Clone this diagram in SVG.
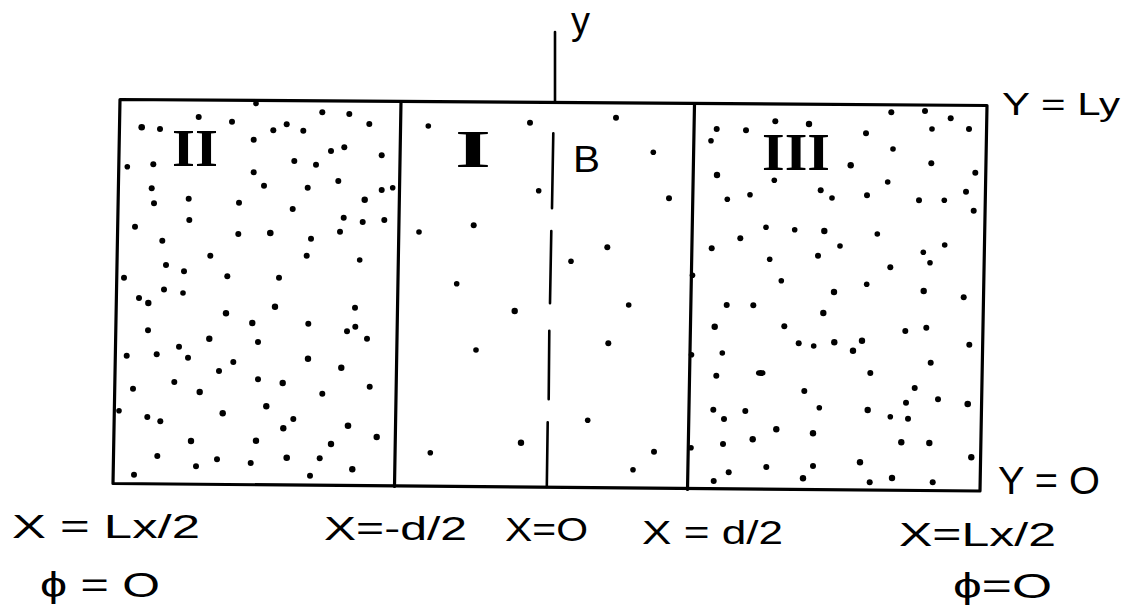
<svg xmlns="http://www.w3.org/2000/svg" width="1127" height="611" viewBox="0 0 1127 611">
<style>
.ln{stroke:#000;stroke-width:3.2;fill:none;stroke-linecap:round;stroke-linejoin:round}
.ax{stroke:#000;stroke-width:2.6;fill:none;stroke-linecap:round}
.d circle,.d ellipse{fill:#000}
.lbl{font-family:"Liberation Sans","DejaVu Sans",sans-serif;fill:#000}
.rn{font-family:"Liberation Serif","DejaVu Serif",serif;font-weight:bold;fill:#000}
</style>
<rect width="1127" height="611" fill="#fff"/>
<g id="frame">
<polygon class="ln" points="120,99.5 987,105.5 980,491 113,483.5"/>
<line class="ln" x1="401" y1="101.5" x2="394.5" y2="486.5"/>
<line class="ln" x1="694.5" y1="104" x2="687.5" y2="489.5"/>
</g>
<g id="connectors">
<line class="ax" x1="555" y1="32" x2="555" y2="102"/>
<g class="ax">
<line x1="553.3" y1="133.3" x2="552" y2="208.3"/>
<line x1="551.3" y1="231" x2="550" y2="303.3"/>
<line x1="549.3" y1="330.7" x2="548.7" y2="399.3"/>
<line x1="547.7" y1="422.3" x2="546.8" y2="487"/>
</g>
</g>
<g id="region-II" class="d">
<text class="rn" x="172" y="165.5" font-size="52" textLength="46" lengthAdjust="spacingAndGlyphs">II</text>
<circle cx="141.7" cy="127.3" r="3.3"/><circle cx="160" cy="129" r="3"/><circle cx="198.7" cy="117" r="3"/><circle cx="232" cy="121.7" r="3"/><circle cx="256" cy="103.5" r="2.8"/><circle cx="322.3" cy="112.3" r="3"/><circle cx="349.3" cy="114" r="3"/><circle cx="369.3" cy="124" r="3"/><circle cx="286.7" cy="124.3" r="3"/><circle cx="273.3" cy="130.3" r="3"/><circle cx="303.3" cy="130.7" r="3"/><circle cx="253.7" cy="139.7" r="3"/><circle cx="344.3" cy="147.3" r="3"/><circle cx="331" cy="151" r="3"/><circle cx="381.7" cy="155.3" r="3"/><circle cx="127.3" cy="166.7" r="2.8"/><circle cx="153.3" cy="164.3" r="3"/><circle cx="294.3" cy="161" r="3"/><circle cx="316" cy="164.7" r="3"/><circle cx="253.7" cy="172.3" r="3"/><circle cx="264" cy="185.7" r="3"/><circle cx="307.7" cy="187.7" r="3"/><circle cx="338.3" cy="181" r="3"/><circle cx="381.7" cy="190" r="3"/><circle cx="392.7" cy="187.7" r="2.8"/><circle cx="151.7" cy="188.3" r="3"/><circle cx="154" cy="203.3" r="3"/><circle cx="188.7" cy="198.7" r="3"/><circle cx="239" cy="202.7" r="3"/><circle cx="292.7" cy="209" r="3"/><circle cx="364.7" cy="199.7" r="3.2"/><circle cx="135" cy="226.7" r="3"/><circle cx="189.3" cy="220" r="3"/><circle cx="343.7" cy="217.7" r="3"/><circle cx="362.7" cy="222" r="3"/><circle cx="384.3" cy="220" r="3"/><circle cx="162.3" cy="240.7" r="3"/><circle cx="238.3" cy="234" r="3"/><circle cx="270.3" cy="233" r="3.3"/><circle cx="311" cy="238.7" r="3"/><circle cx="340" cy="231.7" r="3"/><circle cx="210.3" cy="255.7" r="3"/><circle cx="306.7" cy="255.7" r="3"/><circle cx="359.7" cy="260" r="2.8"/><circle cx="166" cy="265" r="3"/><circle cx="184" cy="271.3" r="3"/><circle cx="124" cy="277.7" r="3"/><circle cx="227.3" cy="276.3" r="3"/><circle cx="279" cy="277.7" r="3"/><circle cx="164" cy="289.5" r="3"/><circle cx="183" cy="293" r="2.8"/>
<circle cx="139" cy="298" r="3"/><circle cx="148.3" cy="303" r="3.2"/><circle cx="226" cy="313.3" r="3.2"/><circle cx="275" cy="306.7" r="3.2"/><circle cx="355" cy="307.7" r="3"/><circle cx="252.3" cy="323" r="3.2"/><circle cx="308.3" cy="323.7" r="3"/><circle cx="148" cy="330.3" r="3"/><circle cx="347" cy="331.3" r="3"/><circle cx="355.3" cy="326.7" r="3"/><circle cx="209.3" cy="338.7" r="3.2"/><circle cx="258" cy="342" r="3"/><circle cx="367" cy="338.7" r="3"/><circle cx="179" cy="346.7" r="3"/><circle cx="126.7" cy="355.7" r="3"/><circle cx="156.7" cy="354.3" r="3"/><circle cx="188" cy="357.7" r="3"/><circle cx="233.3" cy="362" r="3"/><circle cx="308" cy="358.7" r="3.2"/><circle cx="341.3" cy="367.7" r="3.2"/><circle cx="219" cy="371" r="3"/><circle cx="133" cy="388.7" r="3"/><circle cx="174.3" cy="382" r="3"/><circle cx="199.7" cy="392" r="3.2"/><circle cx="258" cy="379.3" r="3"/><circle cx="282.7" cy="383" r="3.2"/><circle cx="322.3" cy="393.7" r="3"/><circle cx="369.7" cy="386.7" r="3"/><circle cx="119" cy="410.7" r="2.8"/><circle cx="147.3" cy="417" r="3"/><circle cx="160.3" cy="421.3" r="3"/><circle cx="222.7" cy="413.3" r="3.2"/><circle cx="266.3" cy="406.3" r="3.2"/><circle cx="293.3" cy="419" r="3"/><circle cx="283.3" cy="428.3" r="3.2"/><circle cx="348" cy="425.7" r="3.3"/><circle cx="191" cy="441" r="3.2"/><circle cx="256" cy="440.7" r="3.2"/><circle cx="331" cy="444" r="3.2"/><circle cx="376.7" cy="437" r="3.2"/><circle cx="157.3" cy="456" r="3"/><circle cx="217" cy="459.3" r="3"/><circle cx="196" cy="466.3" r="3"/><circle cx="250.7" cy="463" r="3"/><circle cx="286.7" cy="457.7" r="3.3"/><circle cx="319.7" cy="458.3" r="3"/><circle cx="352.3" cy="469.3" r="3.2"/><circle cx="134" cy="474.7" r="3"/><circle cx="310" cy="475.7" r="3"/>
</g>
<g id="region-I" class="d">
<text class="rn" x="455" y="166.5" font-size="52" textLength="36" lengthAdjust="spacingAndGlyphs">I</text>
<text class="lbl" x="573" y="171.5" font-size="37" textLength="27" lengthAdjust="spacingAndGlyphs">B</text>
<circle cx="428.3" cy="126" r="2.8"/><circle cx="530" cy="122.7" r="3"/><circle cx="616" cy="117.7" r="3"/><circle cx="653.3" cy="152.3" r="2.8"/><circle cx="669" cy="198.3" r="3"/><circle cx="538.7" cy="190.7" r="2.8"/><circle cx="419" cy="232" r="2.8"/><circle cx="473.7" cy="225.3" r="3"/><circle cx="607.3" cy="247.3" r="3"/><circle cx="571" cy="261.3" r="2.8"/><circle cx="456.7" cy="283.7" r="2.8"/><circle cx="514.7" cy="311" r="3.2"/><circle cx="628.7" cy="305" r="2.8"/><circle cx="476" cy="350" r="2.8"/><circle cx="608.3" cy="343.3" r="3"/><circle cx="587.7" cy="420.3" r="2.8"/><circle cx="430.3" cy="452.7" r="2.8"/><circle cx="521" cy="442.7" r="3.2"/><circle cx="654" cy="451.7" r="3"/><circle cx="633" cy="469.7" r="2.8"/>
</g>
<g id="region-III" class="d">
<text class="rn" x="762" y="170" font-size="52" textLength="68" lengthAdjust="spacingAndGlyphs">III</text>
<circle cx="716.7" cy="129" r="3"/><circle cx="711" cy="140.7" r="2.8"/><circle cx="746" cy="130.3" r="3"/><circle cx="775.3" cy="121.3" r="3"/><circle cx="809" cy="124" r="3.2"/><circle cx="891.3" cy="112.3" r="3"/><circle cx="925" cy="111" r="3"/><circle cx="950.7" cy="118.3" r="3"/><circle cx="932" cy="129" r="2.8"/><circle cx="969" cy="129" r="3"/><circle cx="866" cy="133.3" r="3"/><circle cx="893" cy="149" r="2.8"/><circle cx="931.3" cy="163.3" r="3"/><circle cx="850.7" cy="165.3" r="3.2"/><circle cx="975.3" cy="172.7" r="3"/><circle cx="717" cy="175" r="3.2"/><circle cx="774.3" cy="180.3" r="2.8"/><circle cx="887.7" cy="182" r="2.8"/><circle cx="727.3" cy="199.3" r="2.8"/><circle cx="750" cy="194.7" r="2.8"/><circle cx="820.7" cy="190.3" r="3"/><circle cx="832" cy="198" r="2.8"/><circle cx="867" cy="195.3" r="3"/><circle cx="919" cy="200.3" r="3"/><circle cx="944.3" cy="200.3" r="2.8"/><circle cx="966" cy="191.7" r="3"/><circle cx="973.7" cy="210.7" r="3"/><circle cx="766" cy="227.3" r="2.8"/><circle cx="794.7" cy="229.7" r="2.8"/><circle cx="824.3" cy="231" r="3.2"/><circle cx="740.3" cy="238.3" r="3"/><circle cx="711.7" cy="248.3" r="3"/><circle cx="877.3" cy="234" r="2.8"/><circle cx="840" cy="246" r="2.8"/><circle cx="944.7" cy="245" r="2.8"/><circle cx="769.7" cy="259.3" r="2.8"/><circle cx="818" cy="255.7" r="3"/><circle cx="923.3" cy="252.3" r="2.8"/><circle cx="930" cy="262.7" r="2.8"/><circle cx="890.3" cy="267.3" r="3"/><circle cx="692.5" cy="275.3" r="2.8"/><circle cx="781.3" cy="280.7" r="2.8"/><circle cx="866.7" cy="284.3" r="2.8"/><circle cx="834" cy="292" r="3.2"/><circle cx="923.7" cy="291" r="3.2"/><circle cx="963.7" cy="297.3" r="3"/>
<circle cx="726.7" cy="305" r="3"/><circle cx="753.3" cy="305.3" r="3"/><circle cx="823.3" cy="313" r="3.2"/><circle cx="714.7" cy="326.7" r="3.2"/><circle cx="784.3" cy="326.3" r="3"/><circle cx="905.3" cy="331" r="3"/><circle cx="926.3" cy="327.7" r="3"/><circle cx="798.7" cy="343.3" r="3"/><circle cx="813.7" cy="346" r="2.8"/><circle cx="834.3" cy="342.3" r="3.2"/><circle cx="862" cy="340.7" r="3.2"/><circle cx="853" cy="350.7" r="3.2"/><circle cx="969.3" cy="344.7" r="3"/><circle cx="691.5" cy="354.7" r="2.8"/><circle cx="722.3" cy="353" r="2.8"/><circle cx="930.7" cy="362.7" r="3"/><ellipse cx="760.7" cy="373" rx="4.8" ry="3"/><circle cx="716.3" cy="375.7" r="3"/><circle cx="870.3" cy="373" r="3"/><circle cx="914.7" cy="388" r="3"/><circle cx="804.3" cy="391" r="3"/><circle cx="938" cy="399.3" r="3"/><circle cx="906" cy="402.7" r="3"/><circle cx="967.7" cy="404" r="3.3"/><circle cx="713.3" cy="409.7" r="3"/><circle cx="724" cy="419" r="3"/><circle cx="745.3" cy="411" r="3"/><circle cx="819.3" cy="407.7" r="2.8"/><circle cx="867.7" cy="410" r="3.2"/><circle cx="890.3" cy="416.7" r="2.8"/><circle cx="908" cy="418.7" r="3"/><circle cx="776.3" cy="429.3" r="3.2"/><circle cx="813" cy="433.3" r="3.2"/><circle cx="752.7" cy="439.3" r="3.2"/><circle cx="723" cy="444" r="3"/><circle cx="901.3" cy="442.3" r="3.2"/><circle cx="929.3" cy="443" r="3.2"/><circle cx="691" cy="447.7" r="2.8"/><circle cx="971.3" cy="457.3" r="3.2"/><circle cx="860" cy="462.3" r="3.2"/><circle cx="766.3" cy="467" r="3"/><circle cx="813" cy="466" r="3"/><circle cx="728.7" cy="472.3" r="3"/><circle cx="713.7" cy="481" r="3"/><circle cx="803" cy="478.3" r="3.2"/><circle cx="869.7" cy="482.3" r="3"/><circle cx="892" cy="478" r="3.2"/><circle cx="932.7" cy="482.3" r="3"/>
</g>
<g id="labels" class="lbl">
<text x="571" y="34" font-size="38" textLength="19" lengthAdjust="spacingAndGlyphs">y</text>
<text x="1002" y="115" font-size="31" textLength="118" lengthAdjust="spacingAndGlyphs">Y = Ly</text>
<text x="998" y="494" font-size="38" textLength="102" lengthAdjust="spacingAndGlyphs">Y = O</text>
<text x="12" y="538" font-size="33" textLength="188" lengthAdjust="spacingAndGlyphs">X = Lx/2</text>
<text x="40" y="597" font-size="35" textLength="120" lengthAdjust="spacingAndGlyphs">ϕ = O</text>
<text x="324" y="540" font-size="33" textLength="143" lengthAdjust="spacingAndGlyphs">X=-d/2</text>
<text x="505" y="541" font-size="33" textLength="83" lengthAdjust="spacingAndGlyphs">X=O</text>
<text x="642" y="544" font-size="33" textLength="141" lengthAdjust="spacingAndGlyphs">X = d/2</text>
<text x="899" y="546" font-size="33" textLength="157" lengthAdjust="spacingAndGlyphs">X=Lx/2</text>
<text x="953" y="598" font-size="35" textLength="99" lengthAdjust="spacingAndGlyphs">ϕ=O</text>
</g>
</svg>
